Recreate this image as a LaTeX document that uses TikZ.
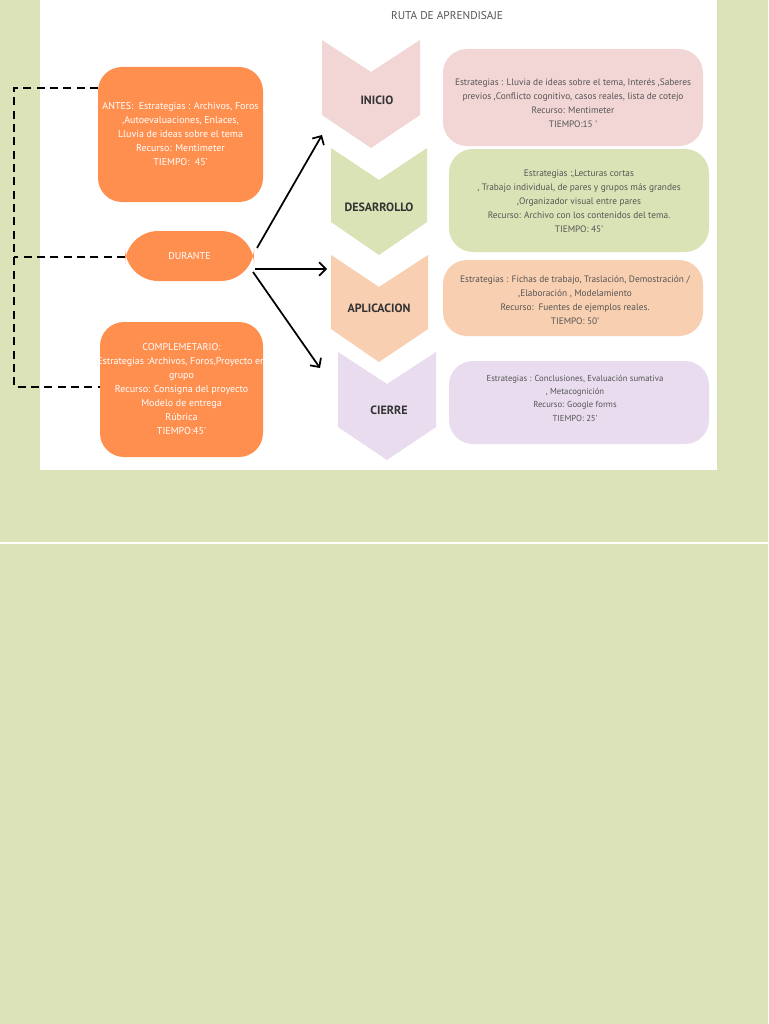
\documentclass[tikz,border=0pt]{standalone}
\usepackage{fontspec}
\setmainfont{PT Sans}
\usetikzlibrary{arrows.meta}
\definecolor{bg}{HTML}{DDE3B8}
\definecolor{org}{HTML}{FF8F4F}
\definecolor{pk}{HTML}{F2D5D5}
\definecolor{gr}{HTML}{DAE3B6}
\definecolor{pc}{HTML}{F8CFB0}
\definecolor{lv}{HTML}{E8DCEE}
\definecolor{tx}{HTML}{555555}
\begin{document}
\begin{tikzpicture}[x=0.75pt,y=-0.75pt,
 ob/.style={fill=org,draw=none,rounded corners=18pt,align=center,text=white,font=\fontsize{7.5}{10.5}\selectfont,inner sep=2pt},
 rb/.style={draw=none,rounded corners=18pt,align=center,text=tx,font=\fontsize{7}{10.5}\selectfont,inner sep=2pt},
 chl/.style={font=\bfseries\fontsize{9}{10}\selectfont,text=black!80},
 ar/.style={-{Straight Barb[length=5pt]},line width=1.3pt}]
\useasboundingbox (0,0) rectangle (768,1024);
\fill[bg] (0,0) rectangle (768,1024);
\fill[white] (40,0) rectangle (717,470);
\draw[white,line width=0.8pt] (0,543) -- (768,543);
\node[text=tx,font=\fontsize{8.5}{10}\selectfont] (title) at (447,16) {RUTA DE APRENDISAJE};
% left boxes
\path[ob] (98,67) rectangle (263,202);
\node[ob,fill=none] (antes) at (180.5,134) {ANTES:\ \ Estrategias : Archivos, Foros\\,Autoevaluaciones, Enlaces,\\Lluvia de ideas sobre el tema\\Recurso: Mentimeter\\TIEMPO:\ \ 45'};
\path[ob,rounded corners=25pt] (125,231) rectangle (254,281);
\node[ob,fill=none] (durante) at (189.5,256) {DURANTE};
\path[ob] (100,322) rectangle (263,457);
\node[ob,fill=none] (comp) at (181.5,389) {COMPLEMETARIO:\\Estrategias :Archivos, Foros,Proyecto en\\grupo\\Recurso: Consigna del proyecto\\Modelo de entrega\\Rúbrica\\TIEMPO:45'};
% dashed bracket
\coordinate (a1) at (98,88); \coordinate (a2) at (125,257); \coordinate (a3) at (100,387);
\draw[dashed,line width=1.6pt,dash pattern=on 6pt off 4pt] (a1) -- (14,88) -- (14,387) -- (a3);
\draw[dashed,line width=1.6pt,dash pattern=on 6pt off 4pt] (a2) -- (14,257);
% chevrons
\fill[pk] (322,40) -- (371,72) -- (420,40) -- (420,115) -- (371,148) -- (322,115) -- cycle;
\node[chl] (inicio) at (377,100) {INICIO};
\fill[gr] (331,148) -- (379,180) -- (427,148) -- (427,222) -- (379,255) -- (331,222) -- cycle;
\node[chl] (des) at (379,207) {DESARROLLO};
\fill[pc] (331,255) -- (379,287) -- (428,255) -- (428,329) -- (379,362) -- (331,329) -- cycle;
\node[chl] (apl) at (379,308) {APLICACION};
\fill[lv] (338,352) -- (387,384) -- (436,352) -- (436,427) -- (387,460) -- (338,427) -- cycle;
\node[chl] (cie) at (389,410) {CIERRE};
\coordinate (t1) at (322,135); \coordinate (t2) at (327,269); \coordinate (t3) at (320,368);
\draw[ar] (257,248) -- (t1);
\draw[ar] (255,269) -- (t2);
\draw[ar] (253,272) -- (t3);
% right boxes
\path[rb,fill=pk] (443,49) rectangle (703,146);
\node[rb] (r1) at (573,103) {Estrategias : Lluvia de ideas sobre el tema, Interés ,Saberes\\previos ,Conflicto cognitivo, casos reales, lista de cotejo\\Recurso: Mentimeter\\TIEMPO:15 '};
\path[rb,fill=gr] (449,149) rectangle (709,252);
\node[rb] (r2) at (579,201) {Estrategias :,Lecturas cortas\\, Trabajo individual, de pares y grupos más grandes\\,Organizador visual entre pares\\Recurso: Archivo con los contenidos del tema.\\TIEMPO: 45'};
\path[rb,fill=pc] (443,260) rectangle (703,336);
\node[rb] (r3) at (575,300) {Estrategias : Fichas de trabajo, Traslación, Demostración /\\,Elaboración , Modelamiento\\Recurso:\ \ Fuentes de ejemplos reales.\\TIEMPO: 50'};
\path[rb,fill=lv] (449,361) rectangle (709,444);
\node[rb,font=\fontsize{6.5}{10}\selectfont] (r4) at (575,398) {Estrategias : Conclusiones, Evaluación sumativa\\, Metacognición\\Recurso: Google forms\\TIEMPO: 25'};
\end{tikzpicture}
\end{document}
